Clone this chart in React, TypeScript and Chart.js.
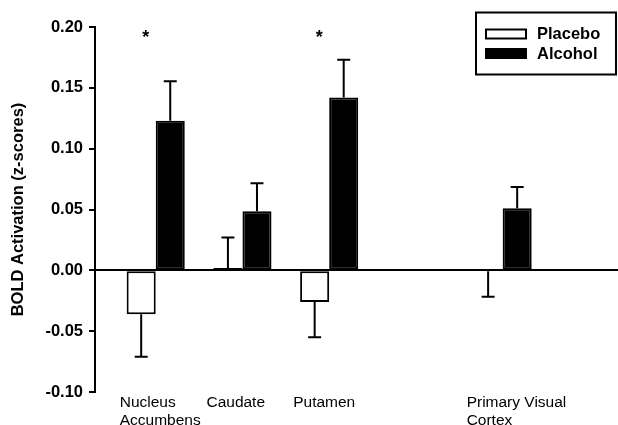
import React, { useEffect, useRef } from 'react';
import { Chart, registerables } from 'chart.js';

Chart.register(...registerables);

// ---- data ----
const categories: string[][] = [
  ['Nucleus', 'Accumbens'],
  ['Caudate'],
  ['Putamen'],
  [],
  ['Primary Visual', 'Cortex'],
];
const placebo: (number | null)[] = [-0.036, 0.002, -0.026, null, -0.0008];
const placeboErr: (number | null)[] = [0.035, 0.025, 0.029, null, 0.021];
const alcohol: (number | null)[] = [0.123, 0.0485, 0.142, null, 0.051];
const alcoholErr: (number | null)[] = [0.0325, 0.023, 0.031, null, 0.0175];
const significance: string[] = ['*', '', '*', '', ''];
const yTicks: number[] = [-0.1, -0.05, 0, 0.05, 0.1, 0.15, 0.2];
const seriesNames: string[] = ['Placebo', 'Alcohol'];

const FONT = '"Liberation Sans", Arial, Helvetica, sans-serif';

function toPoints(vals: (number | null)[], errs: (number | null)[]) {
  const pts: { x: number; y: number; err: number }[] = [];
  vals.forEach((v, i) => {
    if (v !== null && v !== undefined) pts.push({ x: i + 1, y: v, err: errs[i] ?? 0 });
  });
  return pts;
}

const overlayPlugin = {
  id: 'overlay',
  afterDatasetsDraw(chart: any) {
    const ctx = chart.ctx;
    const yScale = chart.scales.y;
    ctx.save();
    ctx.strokeStyle = '#000';
    ctx.lineWidth = 2;
    chart.data.datasets.forEach((ds: any, di: number) => {
      const meta = chart.getDatasetMeta(di);
      meta.data.forEach((el: any, j: number) => {
        const raw = ds.data[j];
        if (!raw || !raw.err) return;
        const dir = raw.y >= 0 ? 1 : -1;
        const yStart = yScale.getPixelForValue(raw.y);
        const yEnd = yScale.getPixelForValue(raw.y + dir * raw.err);
        ctx.beginPath();
        ctx.moveTo(el.x, yStart);
        ctx.lineTo(el.x, yEnd);
        ctx.moveTo(el.x - 6.5, yEnd);
        ctx.lineTo(el.x + 6.5, yEnd);
        ctx.stroke();
      });
    });
    ctx.restore();
  },
  afterDraw(chart: any) {
    const ctx = chart.ctx;
    const xScale = chart.scales.x;
    const yScale = chart.scales.y;
    ctx.save();
    // significance asterisks
    ctx.fillStyle = '#000';
    ctx.font = `bold 18px ${FONT}`;
    ctx.textAlign = 'center';
    ctx.textBaseline = 'alphabetic';
    significance.forEach((s, i) => {
      if (!s) return;
      const x = xScale.getPixelForValue(i + 1) - 10;
      const y = yScale.getPixelForValue(yTicks[yTicks.length - 1]) + 16;
      ctx.fillText(s, x, y);
    });
    // legend box
    const right = chart.width - 2;
    const bx = right - 140;
    const by = 12.5;
    ctx.lineWidth = 2;
    ctx.strokeStyle = '#000';
    ctx.strokeRect(bx, by, 140, 62);
    ctx.font = `bold 16.5px ${FONT}`;
    ctx.textAlign = 'left';
    chart.data.datasets.forEach((ds: any, i: number) => {
      const sy = by + 17 + i * 19.5;
      ctx.fillStyle = ds.backgroundColor;
      ctx.fillRect(bx + 10, sy, 40, 9);
      ctx.strokeRect(bx + 10, sy, 40, 9);
      ctx.fillStyle = '#000';
      ctx.fillText(ds.label, bx + 61, sy + 9.5);
    });
    ctx.restore();
  },
};

export default function App() {
  const ref = useRef<HTMLCanvasElement | null>(null);
  useEffect(() => {
    if (!ref.current) return;
    const chart = new Chart(ref.current, {
      type: 'bar',
      data: {
        datasets: [
          {
            label: seriesNames[0],
            data: toPoints(placebo, placeboErr) as any,
            backgroundColor: '#ffffff',
            borderColor: '#000000',
            borderWidth: 2,
            borderSkipped: false,
          },
          {
            label: seriesNames[1],
            data: toPoints(alcohol, alcoholErr) as any,
            backgroundColor: '#000000',
            borderColor: '#000000',
            borderWidth: 2,
            borderSkipped: false,
          },
        ],
      },
      options: {
        responsive: false,
        animation: false,
        devicePixelRatio: 1,
        categoryPercentage: 0.67,
        barPercentage: 1,
        layout: { padding: { top: 27, left: 0, right: 0, bottom: 0 } },
        plugins: {
          legend: { display: false },
          tooltip: { enabled: false },
        },
        scales: {
          x: {
            type: 'linear',
            min: 0.3,
            max: 6.33,
            offset: false,
            afterBuildTicks: (s: any) => {
              s.ticks = categories
                .map((c, i) => ({ value: i + 1, c }))
                .filter((t) => t.c.length > 0)
                .map((t) => ({ value: t.value }));
            },
            afterFit: (s: any) => {
              s.height = 33;
            },
            border: { display: false },
            grid: { display: false, drawTicks: false, offset: false },
            ticks: {
              autoSkip: false,
              maxRotation: 0,
              minRotation: 0,
              align: 'start',
              labelOffset: -36,
              padding: 2,
              color: '#000',
              font: { family: FONT, size: 15.5, lineHeight: 1.15 },
              callback: (v: any) => categories[Math.round(Number(v)) - 1] || '',
            },
          },
          y: {
            min: -0.1,
            max: 0.2,
            afterBuildTicks: (s: any) => {
              s.ticks = yTicks.map((v) => ({ value: v }));
            },
            afterFit: (s: any) => {
              s.width = 95;
            },
            border: { display: true, color: '#000', width: 2 },
            grid: {
              color: (c: any) =>
                c.tick && Math.abs(c.tick.value) < 1e-9 ? '#000' : 'rgba(0,0,0,0)',
              lineWidth: 2,
              tickColor: '#000',
              tickLength: 6,
              tickWidth: 2,
              drawTicks: true,
            },
            ticks: {
              color: '#000',
              padding: 6,
              font: { family: FONT, size: 16.5, weight: 'bold' },
              callback: (v: any) => Number(v).toFixed(2),
            },
            title: {
              display: true,
              text: 'BOLD Activation (z-scores)',
              color: '#000',
              font: { family: FONT, size: 16.5, weight: 'bold' },
              padding: { top: 9, bottom: 0 },
            },
          },
        },
      } as any,
      plugins: [overlayPlugin],
    });
    return () => chart.destroy();
  }, []);

  return (
    <div style={{ position: 'absolute', left: 0, top: 0, width: 618, height: 425, background: '#fff' }}>
      <canvas ref={ref} width={618} height={425} style={{ display: 'block' }} />
    </div>
  );
}
